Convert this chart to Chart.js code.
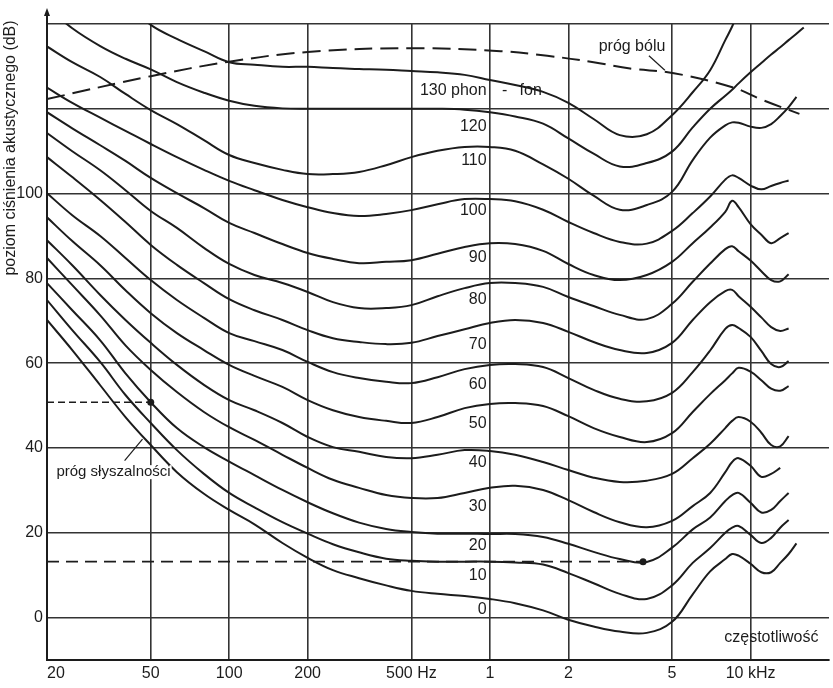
<!doctype html>
<html lang="pl">
<head>
<meta charset="utf-8">
<title>Krzywe jednakowej głośności</title>
<script src="https://cdn.jsdelivr.net/npm/chart.js"></script>
<style>
  html, body { margin: 0; padding: 0; background: #fff; }
  canvas { display: block; }
</style>
</head>
<body>
<canvas id="wykres" width="833" height="688"></canvas>
<script>
// wspólne częstotliwości (Hz) dla krzywych izofonicznych
var czestotliwosci = [20, 25, 32, 40, 50, 63, 80, 100, 125, 160, 200, 250, 315, 400, 500, 630, 800, 1000, 1250, 1600,
  2000, 2500, 3150, 4000, 5000, 6000, 7000, 8000, 8500, 9000, 10000, 11000, 12000, 13000, 14000, 15000, 16000];

// poziom ciśnienia (dB) dla każdej krzywej, null = brak odcinka
var fon0 = [70.2, 63.1, 54.8, 47.3, 40.7, 34.3, 29.2, 25.4, 22, 17.6, 14.1, 11.2, 9.3, 7.6, 6.3, 5.6, 5.1, 4.4, 3.4, 1.7,
  -0.5, -2.1, -3.3, -3.6, -1, 5.5, 10.9, 13.8, 15, 14.6, 12.7, 10.7, 10.7, 12.9, 15, 17.5, null];
var fon10 = [74.9, 67.8, 60.3, 52.5, 45.9, 39.5, 33.9, 29.4, 26, 22.5, 19.8, 17.3, 15.4, 13.9, 13.4, 13.2, 13.2, 13.2, 13, 12.5,
  10.5, 8.1, 5.6, 4.4, 7.6, 12.9, 16.4, 20, 21.2, 21.6, 19.5, 17.6, 18.8, 21.2, 23, null, null];
var fon20 = [78.9, 72.5, 65.4, 57.6, 50.8, 44.7, 40.2, 36.8, 33.6, 30.1, 27.2, 24.6, 22.4, 20.9, 20.2, 19.8, 19.8, 19.7, 19.7, 19,
  17.4, 15.5, 13.8, 13.1, 16.5, 20.8, 23.6, 27.5, 28.9, 29.4, 27.1, 24.8, 25.4, 27.5, 29.4, null, null];
var fon30 = [84.8, 78.4, 71.3, 64.2, 58.4, 53.2, 48.5, 44.9, 41.9, 38.4, 35.3, 32.5, 30.6, 28.9, 28.2, 28.2, 29.4, 30.6, 31.1, 30.1,
  27.7, 24.9, 22.5, 21.3, 22.8, 26.3, 29.4, 34.3, 36.7, 37.6, 35.8, 33.2, 33.9, 35.3, null, null, null];
var fon40 = [89, 83.1, 76.1, 70.2, 64.8, 59.6, 54.9, 51.3, 48.9, 45.9, 42.6, 40.2, 39.1, 37.9, 37.6, 38.4, 39.5, 39.3, 38.4, 36.7,
  34.8, 33, 32, 32.3, 33.9, 37.6, 41, 44.7, 46.4, 47.3, 46.2, 43.6, 40.7, 40.4, 42.8, null, null];
var fon50 = [94.4, 88.8, 83.1, 77.2, 71.8, 67.1, 63.1, 59.6, 57, 54.4, 51.3, 48.9, 47.3, 46.4, 45.9, 47.3, 49.4, 50.4, 50.6, 49.9,
  47.5, 44.7, 42.6, 41.4, 43.5, 48.5, 52.7, 56, 57.6, 58.9, 58, 56, 54, 53.5, 54.6, null, null];
var fon60 = [100.1, 94.9, 90, 84.8, 79.6, 74.9, 70.7, 67.1, 65.2, 63.1, 60.3, 57.9, 56.5, 55.6, 55.3, 56.7, 58.6, 59.6, 59.8, 59.1,
  56.5, 53.7, 51.6, 51, 53, 57.9, 63, 68.1, 69, 68.3, 66.2, 62.9, 59.8, 59.1, 60.5, null, null];
var fon70 = [108.6, 103.9, 98.5, 93.3, 87.9, 83.2, 78.9, 75.1, 72.5, 70.2, 67.8, 65.9, 65, 64.5, 64.8, 66.4, 68, 69.5, 70.2, 69.5,
  67.4, 65, 63.1, 62.4, 64.8, 70.2, 74.4, 77, 77.3, 75.8, 73.3, 70.8, 68.5, 67.6, 68.2, null, null];
var fon80 = [114.3, 110, 105.5, 100.8, 95.9, 91.9, 87.2, 83.4, 80.8, 78.9, 76.8, 74.4, 73, 73, 73.7, 75.8, 77.7, 78.9, 78.9, 78,
  75.6, 73.5, 71.4, 70.4, 74, 79.2, 83.5, 86.9, 87.6, 86.4, 84.2, 81.7, 79.6, 79.3, 81, null, null];
var fon90 = [119.2, 115.4, 111.4, 107.7, 103.7, 100.1, 96.6, 93.1, 90.7, 88.1, 86, 84.6, 83.6, 83.9, 84.3, 85.8, 87.4, 88.3, 88.1, 86.5,
  83.4, 80.8, 79.6, 80.8, 83.9, 88.3, 92, 95.7, 98.3, 96.8, 92.8, 90.3, 88.3, 89.5, 90.7, null, null];
var fon100 = [125, 121.4, 117.9, 114.8, 111.7, 108.6, 105.6, 103, 100.8, 98.5, 96.8, 95.4, 94.7, 95.2, 96.1, 97.5, 98.7, 98.7, 98.2, 96.2,
  93.3, 90.7, 88.6, 88.2, 91.2, 95.4, 99.3, 103.3, 104.3, 103.7, 101.9, 101, 101.8, 102.5, 103.1, null, null];
var fon110 = [134.7, 131, 127.5, 123.5, 119.7, 116.4, 112.6, 109.1, 107.2, 105.6, 104.6, 104.6, 105.1, 106.7, 108.6, 110.1, 111, 111, 110.1, 106.9,
  103.5, 99.5, 96.2, 97.3, 100.4, 107.9, 113.2, 116.1, 116.8, 116.7, 115.8, 115.5, 116.4, 118.3, 120.4, 122.8, null];
var fon120 = [144, 139, 134.8, 131.8, 129.3, 126.3, 123.8, 121.9, 120.7, 120.1, 120, 120, 120, 120, 120, 120, 119.8, 119.2, 118.2, 116.5,
  113, 109.4, 106.4, 107.2, 109.9, 115.6, 120, 123.1, 124.5, 126, 128.6, 130.8, 132.8, 134.5, 136.2, 137.7, 139.2];
var fon130 = [null, null, null, 145, 139.8, 136.5, 133.6, 131, 130.4, 129.9, 129.9, 129.6, 129.4, 129.2, 128.9, 128.6, 128, 126.8, 125.6, 124,
  121.4, 117.6, 113.8, 114, 118.5, 123.9, 129.1, 136.2, 139.4, 143, null, null, null, null, null, null, null];

// próg bólu (linia przerywana)
var progBoluHz = [20, 50, 100, 200, 500, 1100, 1660, 2500, 3450, 5080, 8600, 11200, 15400];
var progBoluDb = [122.3, 127.7, 131.1, 133.4, 134.3, 133.6, 132.5, 131, 129.5, 128.4, 125, 122, 118.8];

// poziome linie odniesienia zakończone kropką
var odniesienie1Hz = [20, 50];
var odniesienie1Db = [50.8, 50.8];
var odniesienie2Hz = [20, 3870];
var odniesienie2Db = [13.2, 13.2];

// kreski wskazujące od podpisów
var wskaznikBoluHz = [4076, 4692];
var wskaznikBoluDb = [132.5, 129.1];
var wskaznikSluchuHz = [39.7, 46.5];
var wskaznikSluchuDb = [37, 42.1];

// osie
var tickiX = [20, 50, 100, 200, 500, 1000, 2000, 5000, 10000, 20000];
var etykietyX = ['\u2007\u200720', '50', '100', '200', '500 Hz', '1', '2', '5', '10 kHz', ''];
var tickiY = [-10, 0, 20, 40, 60, 80, 100, 120, 140];
var etykietyY = ['', '0', '20', '40', '60', '80', '100', '', ''];

// podpisy krzywych (przy 1 kHz)
var podpisyFon = ['0', '10', '20', '30', '40', '50', '60', '70', '80', '90', '100', '110', '120'];
var podpisyFonDb = [1.8, 9.8, 16.9, 26.1, 36.5, 45.7, 54.9, 64.3, 74.9, 85, 95.9, 107.9, 115.7];
var podpisFonHz = 972;

var krzywe = [fon0, fon10, fon20, fon30, fon40, fon50, fon60, fon70, fon80, fon90, fon100, fon110, fon120, fon130];

var CZCIONKA = '"Liberation Sans", Arial, sans-serif';
var TUSZ = '#1c1c1c';

function seria(wartosci) {
  return czestotliwosci.map(function (f, i) { return { x: f, y: wartosci[i] }; })
    .filter(function (p) { return p.y !== null; });
}
function pary(xs, ys) {
  return xs.map(function (f, i) { return { x: f, y: ys[i] }; });
}

var zbiory = krzywe.map(function (k) {
  return {
    data: seria(k),
    borderColor: TUSZ,
    borderWidth: 2,
    pointRadius: 0,
    tension: 0.4,
    fill: false
  };
});

zbiory.push({
  data: pary(progBoluHz, progBoluDb),
  borderColor: TUSZ, borderWidth: 2, borderDash: [18, 8],
  pointRadius: 0, tension: 0.4, fill: false
});
zbiory.push({
  data: pary(odniesienie1Hz, odniesienie1Db),
  borderColor: TUSZ, borderWidth: 1.6, borderDash: [7, 4], fill: false,
  pointRadius: function (c) { return c.dataIndex === 1 ? 3.5 : 0; },
  pointBackgroundColor: TUSZ, pointBorderWidth: 0
});
zbiory.push({
  data: pary(odniesienie2Hz, odniesienie2Db),
  borderColor: TUSZ, borderWidth: 1.6, borderDash: [12, 7], fill: false,
  pointRadius: function (c) { return c.dataIndex === 1 ? 3.5 : 0; },
  pointBackgroundColor: TUSZ, pointBorderWidth: 0
});
zbiory.push({
  data: pary(wskaznikBoluHz, wskaznikBoluDb),
  borderColor: TUSZ, borderWidth: 1.2, pointRadius: 0, fill: false
});
zbiory.push({
  data: pary(wskaznikSluchuHz, wskaznikSluchuDb),
  borderColor: TUSZ, borderWidth: 1.2, pointRadius: 0, fill: false
});

function napis(ctx, tekst, x, y, wyrownanie, tlo) {
  ctx.textAlign = wyrownanie;
  ctx.textBaseline = 'middle';
  if (tlo) {
    var w = ctx.measureText(tekst).width;
    var lewo = wyrownanie === 'right' ? x - w : (wyrownanie === 'center' ? x - w / 2 : x);
    ctx.fillStyle = '#fff';
    ctx.fillRect(lewo - 1, y - 7, w + 2, 14);
  }
  ctx.fillStyle = TUSZ;
  ctx.fillText(tekst, x, y);
}

var opisy = {
  id: 'opisy',
  afterDatasetsDraw: function (chart) {
    var ctx = chart.ctx;
    var sx = chart.scales.x, sy = chart.scales.y;
    var obszar = chart.chartArea;
    ctx.save();
    ctx.font = '16px ' + CZCIONKA;

    // numery krzywych
    var xp = sx.getPixelForValue(podpisFonHz);
    for (var i = 0; i < podpisyFon.length; i++) {
      napis(ctx, podpisyFon[i], xp, sy.getPixelForValue(podpisyFonDb[i]), 'right', true);
    }
    napis(ctx, '130 phon', xp, sy.getPixelForValue(124.4), 'right', true);
    napis(ctx, '-', sx.getPixelForValue(1140), sy.getPixelForValue(124.4), 'center', false);
    napis(ctx, 'fon', sx.getPixelForValue(1300), sy.getPixelForValue(124.4), 'left', false);

    napis(ctx, 'próg bólu', sx.getPixelForValue(3510), sy.getPixelForValue(134.6), 'center', true);
    ctx.font = '15px ' + CZCIONKA;
    napis(ctx, 'próg słyszalności', sx.getPixelForValue(36), sy.getPixelForValue(34.3), 'center', true);
    ctx.font = '16px ' + CZCIONKA;
    napis(ctx, 'częstotliwość', sx.getPixelForValue(12020), sy.getPixelForValue(-4.6), 'center', false);

    // tytuł osi pionowej
    ctx.save();
    ctx.translate(obszar.left - 36, obszar.top + 124);
    ctx.rotate(-Math.PI / 2);
    ctx.fillStyle = TUSZ;
    ctx.textAlign = 'center';
    ctx.textBaseline = 'middle';
    ctx.fillText('poziom ciśnienia akustycznego (dB)', 0, 0);
    ctx.restore();

    // strzałka osi
    ctx.strokeStyle = TUSZ;
    ctx.lineWidth = 2;
    ctx.beginPath();
    ctx.moveTo(obszar.left, obszar.top);
    ctx.lineTo(obszar.left, obszar.top - 13);
    ctx.stroke();
    ctx.fillStyle = TUSZ;
    ctx.beginPath();
    ctx.moveTo(obszar.left, obszar.top - 16);
    ctx.lineTo(obszar.left - 3, obszar.top - 8);
    ctx.lineTo(obszar.left + 3, obszar.top - 8);
    ctx.closePath();
    ctx.fill();
    ctx.restore();
  }
};

new Chart(document.getElementById('wykres'), {
  type: 'line',
  data: { datasets: zbiory },
  options: {
    responsive: false,
    animation: false,
    events: [],
    layout: { padding: { top: 24, left: 0, right: 0, bottom: 0 } },
    plugins: { legend: { display: false }, tooltip: { enabled: false } },
    scales: {
      x: {
        type: 'logarithmic',
        min: 20,
        max: 20000,
        afterBuildTicks: function (s) { s.ticks = tickiX.map(function (v) { return { value: v }; }); },
        afterFit: function (s) { s.height = 28; },
        ticks: {
          autoSkip: false, maxRotation: 0, padding: 4, color: TUSZ,
          font: { family: CZCIONKA, size: 16 },
          callback: function (v, i) { return etykietyX[i]; }
        },
        grid: {
          drawTicks: false, lineWidth: 1.6,
          color: function (c) { return c.tick && c.tick.value === 20000 ? 'rgba(0,0,0,0)' : '#333'; }
        },
        border: { color: TUSZ, width: 2 }
      },
      y: {
        type: 'linear',
        min: -10,
        max: 140,
        afterBuildTicks: function (s) { s.ticks = tickiY.map(function (v) { return { value: v }; }); },
        afterFit: function (s) { s.width = 47; },
        ticks: {
          padding: 4, color: TUSZ,
          font: { family: CZCIONKA, size: 16 },
          callback: function (v, i) { return etykietyY[i]; }
        },
        grid: { drawTicks: false, lineWidth: 1.6, color: '#333' },
        border: { color: TUSZ, width: 2 }
      }
    }
  },
  plugins: [opisy]
});
</script>
</body>
</html>
